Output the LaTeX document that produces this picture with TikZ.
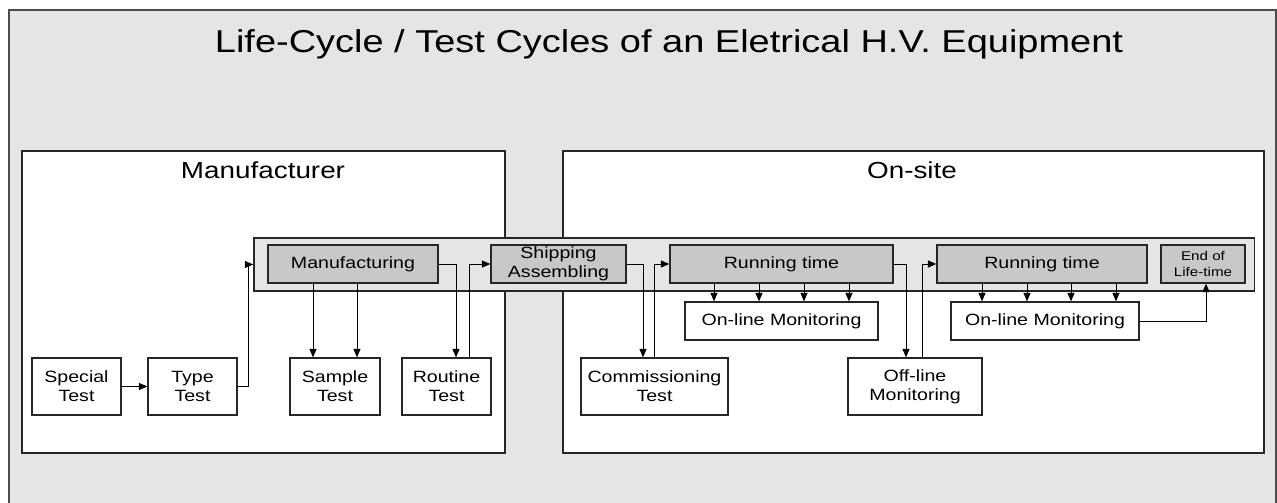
\documentclass[tikz,border=0pt]{standalone}
\usepackage{fontspec}
\setmainfont{Liberation Sans}[FakeStretch=1.2]
\usetikzlibrary{arrows.meta,calc}
\definecolor{bggray}{RGB}{229,229,229}
\definecolor{stagegray}{RGB}{200,200,200}
\definecolor{framegray}{RGB}{75,75,75}

\begin{document}
\begin{tikzpicture}[x=0.025cm, y=-0.025cm,
    area/.style={draw=black!85, line width=0.9pt, fill=white, inner sep=0pt},
    testbox/.style={draw=black!85, line width=0.9pt, fill=white, align=center, inner sep=1pt,
        font=\fontsize{11.6}{13.7}\selectfont, minimum height=1.425cm},
    stagebox/.style={draw=black!85, line width=0.9pt, fill=stagegray, align=center, inner sep=1pt,
        font=\fontsize{11.6}{13.7}\selectfont, minimum height=0.95cm},
    arr/.style={-{Triangle[length=6pt,width=5pt]}, line width=0.6pt}]
            \useasboundingbox (0,0) rectangle (1277,503);
            \fill[bggray] (9,10) rectangle (1276,503);
            \draw[framegray, line width=1.4pt] (9,503) -- (9,10) -- (1276,10) -- (1276,503);

            \node[font=\fontsize{22.5}{27}\selectfont] (title) at (669,44) {Life-Cycle / Test Cycles of an Eletrical H.V. Equipment};

            % the two places
            \node[area, minimum width=12.075cm, minimum height=7.55cm] (mfr) at (263.5,302) {};
            \node[area, minimum width=17.525cm, minimum height=7.55cm] (site) at (913.5,302) {};
            \node[font=\fontsize{16.5}{20}\selectfont] (mfrlabel) at (263,170) {Manufacturer};
            \node[font=\fontsize{16.5}{20}\selectfont] (sitelabel) at (912,170) {On-site};

            % life-cycle band
            \node[area, fill=bggray, minimum width=25cm, minimum height=1.325cm] (band) at (754,264.5) {};
            \node[stagebox, minimum width=4.25cm] (manuf) at (353,264) {Manufacturing};
            \node[stagebox, minimum width=3.375cm] (ship) at (558.5,264) {Shipping\\Assembling};
            \node[stagebox, minimum width=5.575cm] (run1) at (781.5,264) {Running time};
            \node[stagebox, minimum width=5.25cm] (run2) at (1042,264) {Running time};
            \node[stagebox, minimum width=2.1cm, font=\fontsize{9}{11.4}\selectfont] (eol) at (1203,264) {End of\\Life-time};

            % tests
            \node[testbox, minimum width=2.225cm] (special) at (76.5,386.5) {Special\\Test};
            \node[testbox, minimum width=2.225cm] (type) at (192.5,386.5) {Type\\Test};
            \node[testbox, minimum width=2.25cm] (sample) at (335,386.5) {Sample\\Test};
            \node[testbox, minimum width=2.225cm] (routine) at (446.5,386.5) {Routine\\Test};
            \node[testbox, minimum width=3.675cm] (comm) at (654.5,386.5) {Commissioning\\Test};
            \node[testbox, minimum width=3.35cm] (offline) at (915,386.5) {Off-line\\Monitoring};
            \node[testbox, minimum width=4.825cm, minimum height=0.95cm] (online1) at (781.5,321) {On-line Monitoring};
            \node[testbox, minimum width=4.7cm, minimum height=0.95cm] (online2) at (1045,321) {On-line Monitoring};

            % connectors
            \draw[arr] (special.east) -- (type.west);
            \draw[arr] (type.east) -- ++(11,0) |- (band.west);
            \foreach \dx in {-22,22} {
                \path ($(sample.north)+(\dx,0)$) coordinate (p);
                \draw[arr] (manuf.south -| p) -- (p);
            }
            \draw[arr] (manuf.east) -| ($(routine.north)+(9.5,0)$);
            \draw[arr] ($(routine.north)+(22.5,0)$) |- (ship.west);
            \draw[arr] (ship.east) -| ($(comm.north)+(-11.5,0)$);
            \draw[arr] (comm.north) |- (run1.west);
            \foreach \dx in {-67.5,-22.5,22.5,67.5} {
                \path ($(online1.north)+(\dx,0)$) coordinate (p);
                \draw[arr] (run1.south -| p) -- (p);
            }
            \draw[arr] (run1.east) -| ($(offline.north)+(-9,0)$);
            \draw[arr] ($(offline.north)+(7,0)$) |- (run2.west);
            \foreach \dx in {-63,-18,26,71} {
                \path ($(online2.north)+(\dx,0)$) coordinate (p);
                \draw[arr] (run2.south -| p) -- (p);
            }
            \draw[arr] (online2.east) -| ($(eol.south)+(3,0)$);
        \end{tikzpicture}
\end{document}
